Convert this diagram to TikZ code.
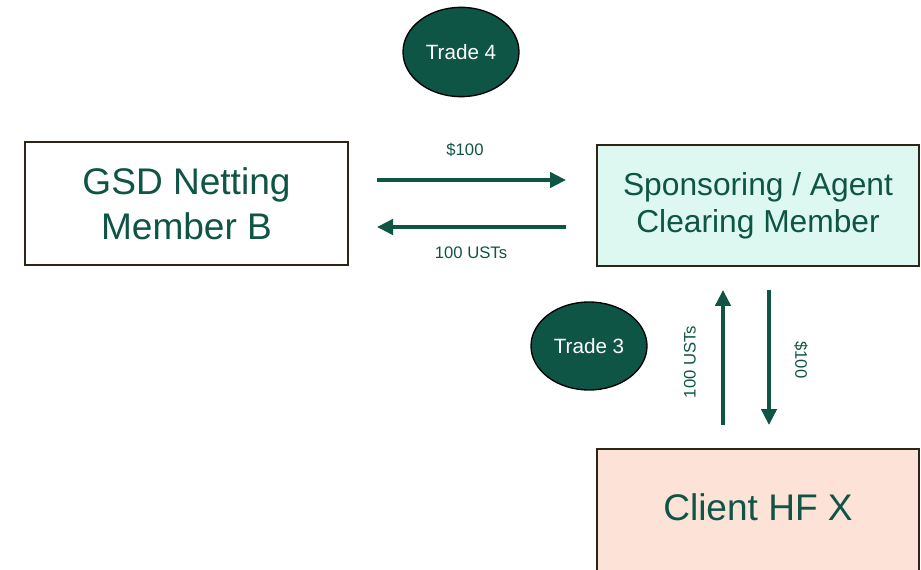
\documentclass[tikz,border=0pt]{standalone}
\usepackage{fontspec}
\setmainfont{Liberation Sans}
\usetikzlibrary{arrows.meta,shapes.geometric}
\definecolor{dtccgreen}{HTML}{0F5546}
\definecolor{boxline}{HTML}{2B2617}
\definecolor{mintfill}{HTML}{DDF8F1}
\definecolor{peachfill}{HTML}{FDE2D8}
\begin{document}
\begin{tikzpicture}[x=0.75pt,y=-0.75pt,
		party/.style={rectangle,draw=boxline,line width=1.5pt,text=dtccgreen,align=center,
			minimum width=242pt,minimum height=91pt},
		trade/.style={ellipse,draw=black,line width=1pt,fill=dtccgreen,text=white,
			minimum width=87pt,minimum height=67pt,font=\fontsize{15.5}{18}\selectfont},
		flow/.style={draw=dtccgreen,line width=2.6pt,-{Triangle[length=12pt,width=11.5pt]}},
		amount/.style={text=dtccgreen,font=\fontsize{12.5}{14}\selectfont}]
		\useasboundingbox (0,0) rectangle (921,570);
		% parties
		\node[party,fill=white,minimum height=92pt,font=\fontsize{27.8}{34}\selectfont] (gsd) at (186.5,203.5) {GSD Netting\\Member B};
		\node[party,fill=mintfill,font=\fontsize{23.8}{28}\selectfont] (spons) at (758,205.5) {Sponsoring / Agent\\Clearing Member};
		\node[party,fill=peachfill,anchor=north,minimum height=150pt] (client) at (758,448) {};
		\node[text=dtccgreen,font=\fontsize{27.8}{32}\selectfont] (clientlbl) at (758,507) {Client HF X};
		% trades
		\node[trade] (trade4) at (461,52) {Trade 4};
		\node[trade,minimum height=66pt] (trade3) at (589,346) {Trade 3};
		% cash and securities legs
		\coordinate (cashL) at (377,180);
		\coordinate (cashR) at (566,180);
		\coordinate (ustR) at (566,227);
		\coordinate (ustL) at (377,227);
		\coordinate (ustLow) at (723,425);
		\coordinate (ustHigh) at (723,290);
		\coordinate (cashHigh) at (769,290);
		\coordinate (cashLow) at (769,425);
		\draw[flow] (cashL) -- (cashR);
		\draw[flow] (ustR) -- (ustL);
		\draw[flow] (ustLow) -- (ustHigh);
		\draw[flow] (cashHigh) -- (cashLow);
		\node[amount] (cash4) at (465,150) {\$100};
		\node[amount] (ust4) at (471,253) {100 USTs};
		\node[amount,rotate=90] (ust3) at (690,362) {100 USTs};
		\node[amount,rotate=-90] (cash3) at (801,360) {\$100};
	\end{tikzpicture}
\end{document}
